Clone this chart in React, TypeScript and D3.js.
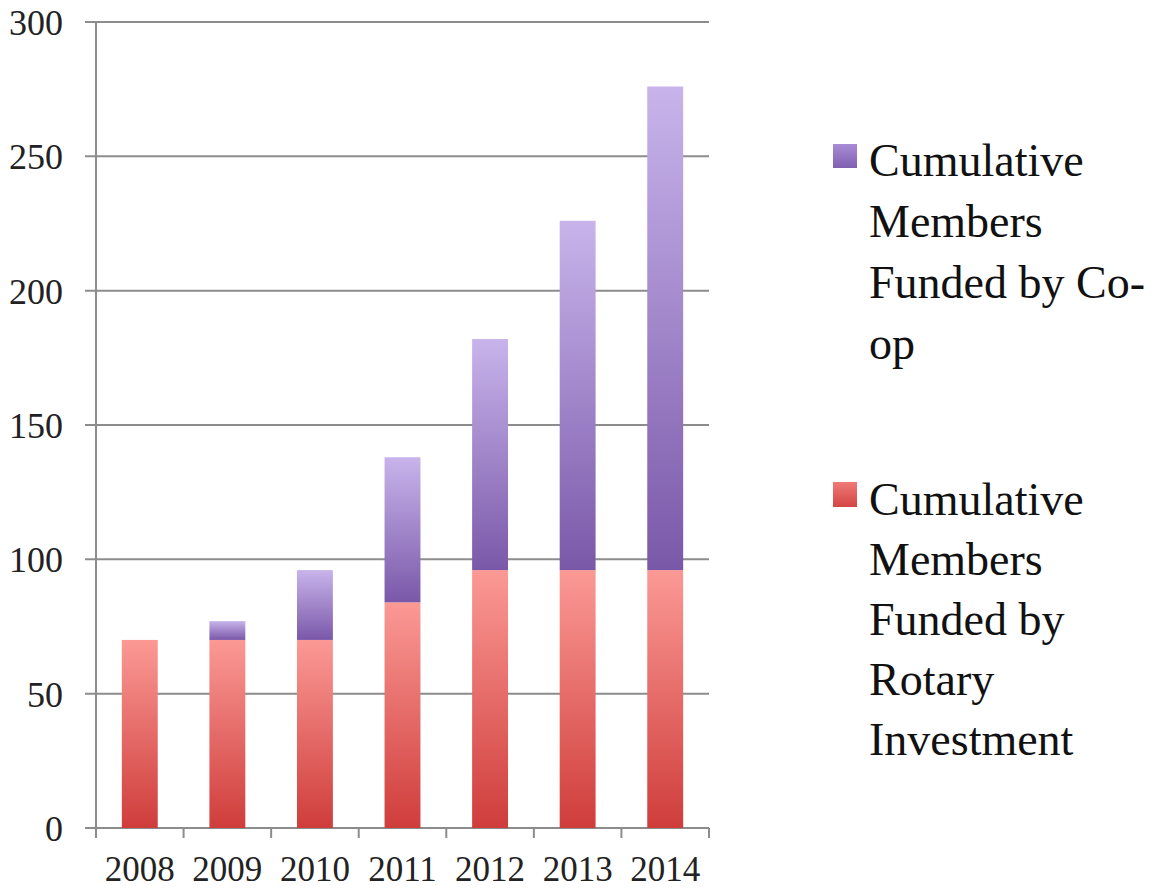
import React from "react";
import * as d3 from "d3";

const years = ["2008", "2009", "2010", "2011", "2012", "2013", "2014"];
const rotary = [70, 70, 70, 84, 96, 96, 96];
const coop = [0, 7, 26, 54, 86, 130, 180];
const yTicks = [0, 50, 100, 150, 200, 250, 300];
const coopLegend = ["Cumulative", "Members", "Funded by Co-", "op"];
const rotaryLegend = ["Cumulative", "Members", "Funded by", "Rotary", "Investment"];

const W = 1157;
const H = 891;
const left = 96;
const right = 709;
const top = 22;
const bottom = 828;
const FONT = "'Liberation Serif', 'Times New Roman', serif";

export default function App() {
  const x = d3.scaleBand<string>().domain(years).range([left, right]).paddingInner(0.59).paddingOuter(0.295);
  const xb = d3.scaleBand<string>().domain(years).range([left, right]);
  const y = d3.scaleLinear().domain([0, 300]).range([bottom, top]);
  const stack = d3.stack<number>().keys(["rotary", "coop"]).value((i, k) => (k === "rotary" ? rotary[i] : coop[i]));
  const series = stack(years.map((_, i) => i));
  const grad = ["url(#gRot)", "url(#gCoop)"];
  const tickXs = years.map((yr) => xb(yr)!).concat([right]);

  return (
    <svg width={W} height={H} style={{ position: "absolute", left: 0, top: 0, background: "#fff" }}>
      <defs>
        <linearGradient id="gRot" x1="0" y1="0" x2="0" y2="1">
          <stop offset="0" stopColor="#fb9995" />
          <stop offset="1" stopColor="#cf3d3b" />
        </linearGradient>
        <linearGradient id="gCoop" x1="0" y1="0" x2="0" y2="1">
          <stop offset="0" stopColor="#c8b4eb" />
          <stop offset="1" stopColor="#7a58a9" />
        </linearGradient>
        <linearGradient id="gRotL" x1="0" y1="0" x2="0" y2="1">
          <stop offset="0" stopColor="#f07a77" />
          <stop offset="1" stopColor="#d44543" />
        </linearGradient>
        <linearGradient id="gCoopL" x1="0" y1="0" x2="0" y2="1">
          <stop offset="0" stopColor="#a98bd6" />
          <stop offset="1" stopColor="#8060b0" />
        </linearGradient>
      </defs>
      {yTicks.map((t) => (
        <line key={"g" + t} x1={85} x2={right} y1={y(t)} y2={y(t)} stroke="#8c8c8c" strokeWidth={2} />
      ))}
      <line x1={left} x2={left} y1={top} y2={bottom + 10} stroke="#8c8c8c" strokeWidth={2} />
      {tickXs.map((tx, i) => (
        <line key={"t" + i} x1={tx} x2={tx} y1={bottom} y2={bottom + 10} stroke="#8c8c8c" strokeWidth={2} />
      ))}
      {series.map((s, si) =>
        s.map((d, i) =>
          d[1] - d[0] > 0 ? (
            <rect
              key={si + "-" + i}
              x={x(years[i])}
              width={x.bandwidth()}
              y={y(d[1])}
              height={y(d[0]) - y(d[1])}
              fill={grad[si]}
            />
          ) : null
        )
      )}
      {yTicks.map((t) => (
        <text key={"yl" + t} x={63} y={y(t) + 13} textAnchor="end" fontFamily={FONT} fontSize={36} fill="#222">
          {t}
        </text>
      ))}
      {years.map((yr) => (
        <text key={"xl" + yr} x={xb(yr)! + xb.bandwidth() / 2} y={881} textAnchor="middle" fontFamily={FONT} fontSize={35} fill="#222">
          {yr}
        </text>
      ))}
      <rect x={833} y={144} width={24} height={24} fill="url(#gCoopL)" />
      {coopLegend.map((s, i) => (
        <text key={"lc" + i} x={869} y={176 + i * 61} fontFamily={FONT} fontSize={46} fill="#111">
          {s}
        </text>
      ))}
      <rect x={833} y={482} width={24} height={25} fill="url(#gRotL)" />
      {rotaryLegend.map((s, i) => (
        <text key={"lr" + i} x={869} y={515 + i * 60} fontFamily={FONT} fontSize={46} fill="#111">
          {s}
        </text>
      ))}
    </svg>
  );
}
